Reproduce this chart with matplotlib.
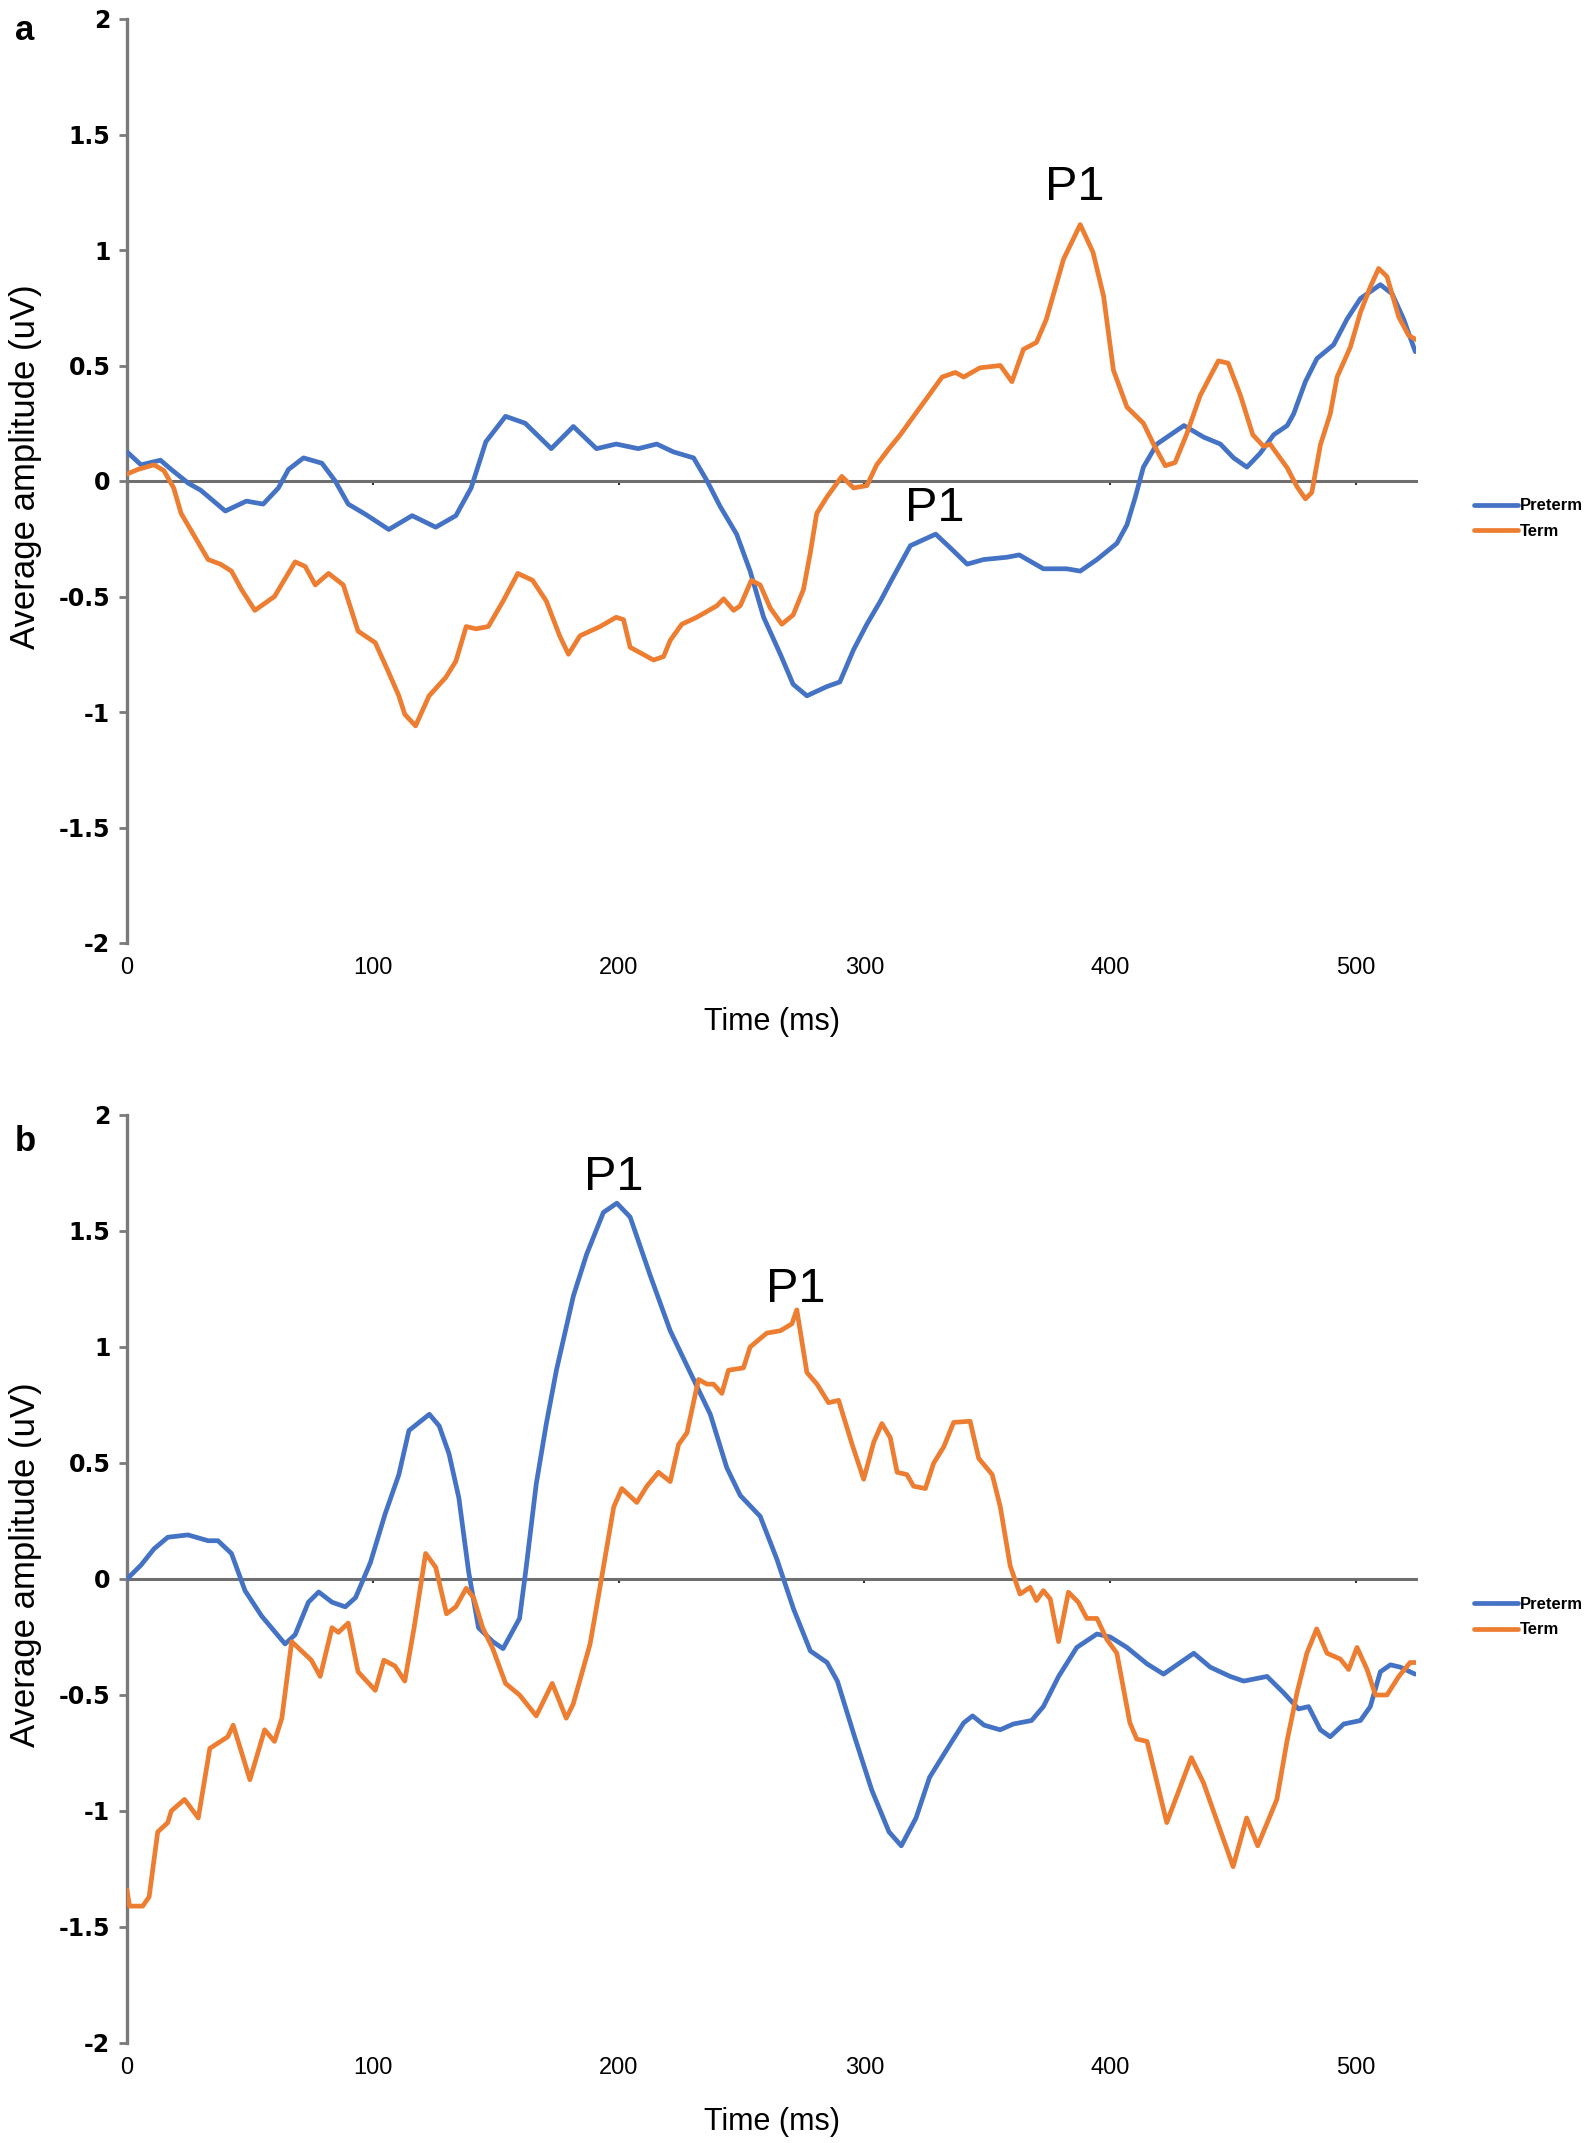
import matplotlib
matplotlib.use('Agg')
import matplotlib.pyplot as plt
from matplotlib import font_manager as fm

# ---------------- data ----------------
# Panel a - Preterm
a_pre_t = [0, 5.7, 13.6, 18, 25, 30, 40, 48.6, 55.4, 61.6,
           65.7, 71.8, 79.3, 84.7, 90, 97, 106.5, 116, 125.6, 133.8,
           140, 146, 154, 162, 172.6, 181.6, 191, 199, 208, 215.5,
           222.3, 230.5, 236, 241.3, 248, 253.5, 259, 265.8, 271, 276.6,
           284.7, 290, 295.6, 301, 306.5, 312, 318.7, 329, 335, 341.8,
           348.5, 358, 363, 372.8, 382.3, 387.8, 394.6, 402.7, 406.8, 410.2,
           413.5, 419, 430, 438, 444.8, 450.2, 455.6, 461, 466.5, 472,
           474.6, 479.4, 484.1, 490.9, 496.3, 501.8, 509.9, 514.7, 519.4, 524.1]
a_pre_v = [0.126, 0.07, 0.09, 0.05, -0.01, -0.04, -0.13, -0.087, -0.10, -0.03,
           0.05, 0.10, 0.077, 0.0, -0.10, -0.144, -0.21, -0.15, -0.20, -0.15,
           -0.03, 0.17, 0.28, 0.25, 0.14, 0.236, 0.14, 0.16, 0.14, 0.16,
           0.126, 0.10, 0.0, -0.11, -0.23, -0.39, -0.59, -0.75, -0.88, -0.93,
           -0.89, -0.87, -0.73, -0.62, -0.52, -0.41, -0.28, -0.23, -0.29, -0.36,
           -0.34, -0.33, -0.32, -0.38, -0.38, -0.39, -0.34, -0.27, -0.19, -0.07,
           0.06, 0.16, 0.24, 0.19, 0.16, 0.10, 0.06, 0.12, 0.20, 0.24,
           0.29, 0.43, 0.53, 0.59, 0.70, 0.79, 0.85, 0.81, 0.70, 0.56]

# Panel a - Term
a_term_t = [0, 4.4, 11, 15, 19, 22, 27.5, 33, 38, 42.5,
            46.6, 52, 60, 68.4, 72.5, 76.6, 82, 88, 94, 101,
            106.5, 110.6, 113, 117.4, 122.9, 129.7, 133.8, 138, 142, 147,
            153, 159, 165, 170.6, 176, 179.6, 184.3, 192.5, 199, 202,
            204.7, 214.2, 218.3, 221, 225.7, 231.8, 240, 242.7, 246.8, 249.5,
            254, 257.6, 261.7, 266.4, 271, 275.2, 278, 280.6, 284.7, 290.8,
            295.6, 301, 305, 310, 314.6, 320, 325.5, 331.6, 337, 340.4,
            347, 355.3, 360, 364.7, 370, 374, 381, 387.8, 393, 397.3,
            401.3, 406.8, 413.5, 417.6, 422.4, 426.4, 431, 436.6, 444, 448,
            453, 458, 462.4, 465, 472, 476, 479.4, 482, 485.5, 489.5,
            492.3, 497.7, 501.8, 505.8, 509.2, 512.6, 517.4, 521.4, 524.8]
a_term_v = [0.03, 0.05, 0.07, 0.045, -0.03, -0.14, -0.24, -0.34, -0.36, -0.39,
            -0.47, -0.56, -0.50, -0.35, -0.37, -0.45, -0.40, -0.45, -0.65, -0.70,
            -0.83, -0.93, -1.01, -1.06, -0.93, -0.85, -0.78, -0.63, -0.64, -0.63,
            -0.52, -0.40, -0.43, -0.52, -0.67, -0.75, -0.67, -0.63, -0.59, -0.60,
            -0.72, -0.775, -0.76, -0.69, -0.62, -0.59, -0.54, -0.51, -0.56, -0.54,
            -0.43, -0.45, -0.55, -0.62, -0.58, -0.47, -0.31, -0.14, -0.07, 0.02,
            -0.03, -0.02, 0.07, 0.14, 0.20, 0.28, 0.36, 0.45, 0.47, 0.45,
            0.49, 0.50, 0.43, 0.57, 0.60, 0.70, 0.96, 1.11, 0.99, 0.80,
            0.48, 0.32, 0.25, 0.16, 0.066, 0.08, 0.20, 0.37, 0.52, 0.51,
            0.37, 0.20, 0.15, 0.16, 0.057, -0.025, -0.077, -0.05, 0.156, 0.29,
            0.45, 0.58, 0.73, 0.84, 0.92, 0.885, 0.71, 0.63, 0.61]

# Panel b - Preterm
b_pre_t = [0, 5.7, 11, 16.6, 24.8, 33, 37, 42.5, 48, 54.8,
           64.3, 68.4, 73.8, 78, 83.4, 88.8, 93, 99, 105, 110.6,
           114.7, 123, 127, 131, 135, 139, 143, 148.8, 153, 159.7,
           162.4, 166.5, 170.6, 174.7, 181.6, 187, 193.8, 199.3, 204.7, 212.8,
           221, 230.5, 237.3, 244, 249.5, 257.6, 264.4, 271.2, 278, 284.8,
           289, 296, 303, 310, 315, 321, 326.5, 335, 340.4, 344,
           348.7, 355.2, 360.6, 368, 372.8, 379, 386.4, 394.6, 400, 406.8,
           415, 421.7, 428.5, 434, 440.7, 448.8, 454.3, 463.8, 470.5, 476.6,
           480.7, 485.5, 489.5, 495, 501.8, 505.8, 509.9, 514, 518, 524]
b_pre_v = [0.0, 0.06, 0.13, 0.18, 0.19, 0.165, 0.165, 0.11, -0.05, -0.16,
           -0.28, -0.24, -0.10, -0.056, -0.10, -0.12, -0.08, 0.07, 0.28, 0.45,
           0.64, 0.71, 0.66, 0.54, 0.35, 0.03, -0.21, -0.27, -0.30, -0.17,
           0.05, 0.41, 0.67, 0.90, 1.22, 1.40, 1.58, 1.62, 1.56, 1.31,
           1.07, 0.86, 0.71, 0.48, 0.36, 0.27, 0.085, -0.13, -0.31, -0.36,
           -0.44, -0.68, -0.91, -1.09, -1.15, -1.03, -0.855, -0.71, -0.62, -0.59,
           -0.63, -0.65, -0.625, -0.61, -0.55, -0.42, -0.295, -0.237, -0.25, -0.295,
           -0.366, -0.41, -0.36, -0.32, -0.38, -0.42, -0.44, -0.42, -0.49, -0.56,
           -0.55, -0.65, -0.68, -0.625, -0.61, -0.55, -0.40, -0.37, -0.38, -0.41]

# Panel b - Term
b_term_t = [0, 1, 6.4, 9, 12.5, 16.6, 18, 23.4, 29, 33.7,
            41, 43.2, 50, 56, 60, 63, 67, 75, 78.6, 83.4,
            86, 90, 94, 101, 104.5, 109, 113, 116.8, 121.5, 125.6,
            130, 133.8, 138, 141, 144.7, 148.8, 154, 159.7, 166.5, 173,
            178.7, 181.5, 188.4, 193, 198, 201.3, 207.4, 211.5, 216.2, 221,
            224.4, 227.8, 232.5, 235.9, 238.6, 242, 244.7, 250.8, 253.5, 260.3,
            265.8, 270.5, 272.5, 276.6, 280.7, 285.4, 289.5, 295, 299.7, 303.8,
            307.1, 310.5, 313.3, 317.3, 320, 324.8, 328.2, 332.3, 336.3, 343,
            346.5, 352, 355.3, 359.3, 363.3, 367.4, 370, 372.8, 375.6, 379,
            383, 387, 390.5, 394.6, 398.6, 402.7, 408, 410.8, 415, 423,
            433, 438, 445, 450, 455.5, 460, 467.8, 471.9, 476, 480,
            484, 488.2, 493.6, 497, 500.4, 504.5, 507.9, 512.6, 517.4, 522,
            524.8]
b_term_v = [-1.34, -1.41, -1.41, -1.37, -1.09, -1.05, -1.00, -0.95, -1.03, -0.73,
            -0.68, -0.63, -0.865, -0.65, -0.70, -0.60, -0.27, -0.35, -0.42, -0.21,
            -0.23, -0.19, -0.40, -0.48, -0.35, -0.375, -0.44, -0.21, 0.11, 0.05,
            -0.15, -0.12, -0.04, -0.08, -0.21, -0.30, -0.45, -0.50, -0.59, -0.45,
            -0.60, -0.54, -0.28, 0.0, 0.31, 0.39, 0.33, 0.40, 0.46, 0.42,
            0.58, 0.63, 0.86, 0.84, 0.84, 0.80, 0.90, 0.91, 1.00, 1.06,
            1.07, 1.10, 1.16, 0.89, 0.84, 0.76, 0.77, 0.58, 0.43, 0.59,
            0.67, 0.61, 0.46, 0.45, 0.40, 0.39, 0.50, 0.57, 0.675, 0.68,
            0.52, 0.45, 0.31, 0.057, -0.065, -0.036, -0.093, -0.05, -0.086, -0.27,
            -0.057, -0.10, -0.17, -0.17, -0.26, -0.32, -0.62, -0.69, -0.70, -1.05,
            -0.77, -0.88, -1.09, -1.24, -1.03, -1.15, -0.95, -0.70, -0.49, -0.32,
            -0.215, -0.32, -0.345, -0.39, -0.295, -0.39, -0.50, -0.50, -0.42, -0.36,
            -0.36]

x_ticks = [0, 100, 200, 300, 400, 500]
y_ticks = [2, 1.5, 1, 0.5, 0, -0.5, -1, -1.5, -2]
y_tick_labels = ['2', '1.5', '1', '0.5', '0', '-0.5', '-1', '-1.5', '-2']
series_names = ['Preterm', 'Term']
panel_letters = ['a', 'b']
# P1 annotation anchors (time, amplitude) per panel
a_p1 = [(385.7, 1.27), (328.5, -0.12)]
b_p1 = [(198.2, 1.73), (271.9, 1.25)]

# ---------------- styling ----------------
names = {f.name for f in fm.fontManager.ttflist}
SANS = 'Liberation Sans' if 'Liberation Sans' in names else 'DejaVu Sans'
BOLD_TICK = 'DejaVu Sans'

BLUE = '#4472C4'
ORANGE = '#ED7D31'
GRAY = '#7a7a7a'

W, H = 1595, 2143
fig = plt.figure(figsize=(W / 100, H / 100), dpi=100)


def axes_px(left, top, right, bottom):
    return fig.add_axes([left / W, 1 - bottom / H, (right - left) / W, (bottom - top) / H])


panels = [
    dict(box=(127, 19, 1416, 943), pre=(a_pre_t, a_pre_v), term=(a_term_t, a_term_v),
         p1=a_p1, letter=panel_letters[0], letter_y=40),
    dict(box=(127, 1115, 1416, 2043), pre=(b_pre_t, b_pre_v), term=(b_term_t, b_term_v),
         p1=b_p1, letter=panel_letters[1], letter_y=1151),
]

for p in panels:
    assert len(p['pre'][0]) == len(p['pre'][1])
    assert len(p['term'][0]) == len(p['term'][1])
    ax = axes_px(*p['box'])
    l1, = ax.plot(p['pre'][0], p['pre'][1], color=BLUE, lw=3.4, solid_joinstyle='round',
                  solid_capstyle='round', zorder=3)
    l2, = ax.plot(p['term'][0], p['term'][1], color=ORANGE, lw=3.4, solid_joinstyle='round',
                  solid_capstyle='round', zorder=3)
    ax.set_xlim(0, 524.4)
    ax.set_ylim(-2, 2)

    for s in ('top', 'right'):
        ax.spines[s].set_visible(False)
    ax.spines['left'].set_color(GRAY)
    ax.spines['left'].set_linewidth(2.4)
    ax.spines['bottom'].set_position(('data', 0))
    ax.spines['bottom'].set_color('#6f6f6f')
    ax.spines['bottom'].set_linewidth(2.2)
    ax.spines['bottom'].set_zorder(2)

    ax.set_yticks(y_ticks)
    ax.set_yticklabels(y_tick_labels, fontfamily=BOLD_TICK, fontweight='bold', fontsize=17)
    ax.tick_params(axis='y', direction='out', length=6, width=2, color=GRAY, pad=6)

    ax.set_xticks(x_ticks)
    ax.tick_params(axis='x', direction='out', length=3, width=1.5, color='#333333',
                   labelbottom=False)

    sec = ax.secondary_xaxis(0.0)
    sec.set_xticks(x_ticks)
    sec.set_xticklabels([str(t) for t in x_ticks], fontfamily=SANS, fontsize=17)
    sec.spines['bottom'].set_visible(False)
    sec.tick_params(axis='x', length=0, pad=10)

    ax.set_xlabel('Time (ms)', fontfamily=SANS, fontsize=22)
    ax.xaxis.set_label_coords(0.5, -0.085)
    ax.xaxis.label.set_va('center')
    ax.set_ylabel('Average amplitude (uV)', fontfamily=SANS, fontsize=25)
    ax.yaxis.set_label_coords(-0.079, 0.515)
    ax.yaxis.label.set_va('center')

    for (tx, ty) in p['p1']:
        ax.text(tx, ty, 'P1', fontfamily=SANS, fontsize=35, ha='center', va='center')

    ax.legend([l1, l2], series_names, loc='center left', bbox_to_anchor=(1.04, 0.459),
              frameon=False, prop=dict(family=SANS, weight='bold', size=12),
              handlelength=2.6, handletextpad=0.15, labelspacing=0.65, borderaxespad=0)

    fig.text(15 / W, 1 - p['letter_y'] / H, p['letter'], fontfamily=SANS, fontweight='bold',
             fontsize=25, ha='left', va='baseline')

fig.savefig('out.png', dpi=100, facecolor='white')
